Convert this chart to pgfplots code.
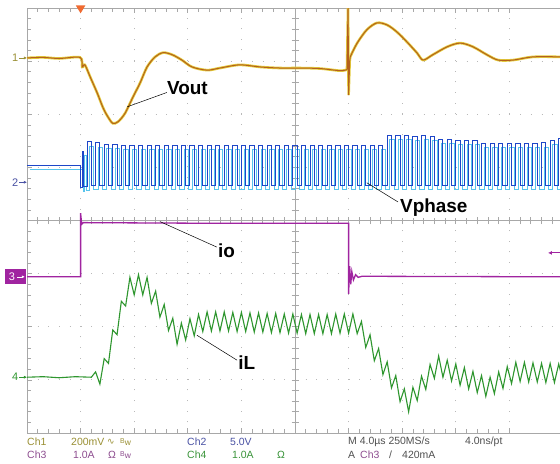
\documentclass[border=0pt]{standalone}
\usepackage{pgfplots}
\pgfplotsset{compat=1.18}
\usepackage{pgfplotstable}
\usepackage{fontspec}
\setmainfont{Liberation Sans}
\newfontfamily\dejavu{DejaVu Sans}
\usetikzlibrary{arrows.meta}

\definecolor{c1}{HTML}{B4601C}
\definecolor{c1halo}{HTML}{E4CC3C}
\definecolor{c1t}{HTML}{9A9034}
\definecolor{c2}{HTML}{1E46C8}
\definecolor{c2b}{HTML}{58C4EC}
\definecolor{c2t}{HTML}{4A52A4}
\definecolor{c3}{HTML}{A024A0}
\definecolor{c3t}{HTML}{8E4E90}
\definecolor{c4}{HTML}{2E962E}
\definecolor{c4t}{HTML}{3A943A}
\definecolor{gridc}{HTML}{A8A8A8}
\definecolor{txt}{HTML}{505050}
\definecolor{trig}{HTML}{F06A30}

% all values in scope divisions (x: 0..10, y: -4..4)
\pgfplotstableread{
x y
0.00 3.06
0.30 3.07
0.60 3.05
0.99 3.07
1.03 2.89
1.08 2.93
1.18 2.70
1.31 2.40
1.42 2.12
1.51 1.95
1.60 1.83
1.70 1.86
1.83 2.02
1.98 2.33
2.11 2.59
2.24 2.89
2.39 3.08
2.54 3.16
2.71 3.12
2.89 3.02
3.08 2.89
3.36 2.83
3.60 2.87
3.97 2.93
4.35 2.89
4.72 2.87
5.09 2.87
5.47 2.86
5.84 2.82
5.97 2.84
}\voutA

\pgfplotstableread{
x y
5.97 2.84
5.99 4.05
6.00 2.36
6.02 3.00
6.03 3.08
}\voutS

\pgfplotstableread{
x y
6.03 3.08
6.16 3.34
6.34 3.59
6.53 3.72
6.72 3.68
6.90 3.55
7.09 3.36
7.28 3.15
7.39 3.02
7.57 3.12
7.84 3.27
8.08 3.34
8.32 3.27
8.58 3.12
8.79 3.02
9.07 3.02
9.44 3.08
9.95 3.08
}\voutB

\pgfplotstableread{
x y
0.00 1.04
1.00 0.62
1.03 1.30
1.06 0.64
1.12 1.48
1.20 0.66
1.28 1.46
1.36 0.66
1.44 1.44
1.52 0.66
1.60 1.43
1.68 0.66
1.76 1.42
1.84 0.66
1.92 1.42
2.00 0.66
2.08 1.41
2.16 0.66
2.24 1.42
2.32 0.66
2.40 1.41
2.48 0.66
2.56 1.42
2.64 0.66
2.72 1.41
2.80 0.66
2.88 1.42
2.96 0.66
3.04 1.41
3.12 0.66
3.20 1.42
3.28 0.66
3.36 1.41
3.44 0.66
3.52 1.42
3.60 0.66
3.68 1.41
3.76 0.66
3.84 1.42
3.92 0.66
4.00 1.41
4.08 0.66
4.16 1.42
4.24 0.66
4.32 1.41
4.40 0.66
4.48 1.42
4.56 0.66
4.64 1.41
4.72 0.66
4.80 1.42
4.88 0.66
4.96 1.41
5.04 0.66
5.12 1.42
5.20 0.66
5.28 1.41
5.36 0.66
5.44 1.42
5.52 0.66
5.60 1.41
5.68 0.66
5.76 1.42
5.84 0.66
5.92 1.41
6.00 0.66
6.08 1.42
6.16 0.66
6.24 1.41
6.32 0.66
6.40 1.42
6.48 0.66
6.56 1.42
6.64 0.66
6.72 1.60
6.80 0.66
6.88 1.60
6.96 0.66
7.04 1.60
7.12 0.66
7.20 1.59
7.28 0.66
7.36 1.60
7.44 0.66
7.52 1.58
7.60 0.66
7.68 1.52
7.76 0.66
7.84 1.52
7.92 0.66
8.00 1.51
8.08 0.66
8.16 1.50
8.24 0.66
8.32 1.50
8.40 0.66
8.48 1.45
8.56 0.66
8.64 1.45
8.72 0.66
8.80 1.45
8.88 0.66
8.96 1.45
9.04 0.66
9.12 1.45
9.20 0.66
9.28 1.45
9.36 0.66
9.44 1.45
9.52 0.66
9.60 1.46
9.68 0.66
9.76 1.50
9.84 0.66
9.92 1.55
10.00 0.66
}\vphase

\pgfplotstableread{
x y
0.00 -1.06
1.00 -1.06
1.00 0.14
1.02 -0.07
1.05 -0.04
3.00 -0.05
6.00 -0.05
6.00 -1.38
6.02 -0.86
6.04 -1.20
6.06 -0.96
6.09 -1.12
6.13 -1.02
6.18 -1.07
6.25 -1.05
9.95 -1.06
}\io

\pgfplotstableread{
x y
0.00 -2.95
0.30 -2.94
0.60 -2.96
0.90 -2.94
1.20 -2.95
1.28 -2.85
1.36 -3.08
1.44 -2.60
1.52 -2.69
1.60 -2.06
1.68 -2.15
1.76 -1.52
1.84 -1.61
1.92 -1.07
2.00 -1.40
2.08 -1.02
2.16 -1.40
2.24 -1.07
2.32 -1.56
2.40 -1.33
2.48 -1.82
2.56 -1.58
2.64 -2.07
2.72 -1.84
2.80 -2.33
2.88 -1.93
2.96 -2.25
3.04 -1.85
3.12 -2.17
3.20 -1.77
3.28 -2.09
3.36 -1.72
3.44 -2.08
3.52 -1.72
3.60 -2.08
3.68 -1.72
3.76 -2.08
3.84 -1.73
3.92 -2.09
4.00 -1.73
4.08 -2.09
4.16 -1.74
4.24 -2.10
4.32 -1.74
4.40 -2.10
4.48 -1.75
4.56 -2.11
4.64 -1.75
4.72 -2.11
4.80 -1.76
4.88 -2.12
4.96 -1.76
5.04 -2.12
5.12 -1.77
5.20 -2.13
5.28 -1.77
5.36 -2.13
5.44 -1.77
5.52 -2.13
5.60 -1.77
5.68 -2.13
5.76 -1.76
5.84 -2.12
5.92 -1.76
6.00 -2.12
6.08 -1.76
6.16 -2.13
6.24 -1.90
6.32 -2.39
6.40 -2.15
6.48 -2.64
6.56 -2.41
6.64 -2.90
6.72 -2.66
6.80 -3.15
6.88 -2.92
6.96 -3.41
7.04 -3.17
7.12 -3.60
7.20 -3.14
7.28 -3.39
7.36 -2.93
7.44 -3.18
7.52 -2.71
7.60 -2.97
7.68 -2.55
7.76 -2.95
7.84 -2.63
7.92 -3.02
8.00 -2.70
8.08 -3.10
8.16 -2.77
8.24 -3.17
8.32 -2.84
8.40 -3.24
8.48 -2.92
8.56 -3.31
8.64 -2.95
8.72 -3.26
8.80 -2.85
8.88 -3.16
8.96 -2.75
9.04 -3.07
9.12 -2.67
9.20 -3.03
9.28 -2.67
9.36 -3.04
9.44 -2.68
9.52 -3.04
9.60 -2.69
9.68 -3.05
9.76 -2.69
9.84 -3.05
9.92 -2.70
10.00 -3.02
}\iL

\begin{document}
\begin{tikzpicture}
\useasboundingbox (0bp,0bp) rectangle (560bp,464bp);
\fill[white] (0bp,0bp) rectangle (560bp,464bp);
\begin{axis}[
    at={(27bp,31bp)}, anchor=south west,
    scale only axis, width=533bp, height=425bp,
    xmin=0, xmax=9.944, ymin=-4, ymax=4,
    axis x line*=box, axis y line*=left,
    axis line style={gridc, line width=0.8bp},
    xtick={0,...,9}, ytick={-4,...,4},
    minor x tick num=4, minor y tick num=4,
    xticklabels={}, yticklabels={},
    tick align=inside,
    tick style={gridc, line width=0.7bp},
    major tick length=5bp, minor tick length=4bp,
    grid=major,
    x grid style={gridc!80, line width=1bp, dash pattern=on 1bp off 9.625bp},
    y grid style={gridc!80, line width=1bp, dash pattern=on 1bp off 9.72bp},
    clip mode=individual,
]
% centre graticule
\draw[gridc, line width=0.8bp] (0,0) -- (9.944,0);
\draw[gridc, line width=0.8bp] (5,-4) -- (5,4);
\pgfplotsinvokeforeach{0.2,0.4,...,9.8}{\draw[gridc, line width=0.7bp] (#1,0) ++(0pt,-3.5bp) -- ++(0pt,7bp);}
\pgfplotsinvokeforeach{-3.8,-3.6,...,3.8}{\draw[gridc, line width=0.7bp] (5,#1) ++(-3.5bp,0pt) -- ++(7bp,0pt);}

% Ch2 Vphase (persistence copy + trace)
\addplot[const plot, c2b, line width=0.7bp, xshift=2.5bp, yshift=-4bp] table {\vphase};
\addplot[const plot, c2, line width=1bp] table {\vphase};

% Ch1 Vout
\addplot[smooth, c1halo, line width=2.6bp] table {\voutA};
\addplot[c1halo, line width=2.6bp] table {\voutS};
\addplot[smooth, c1halo, line width=2.6bp] table {\voutB};
\addplot[smooth, c1, line width=1bp] table {\voutA};
\addplot[c1, line width=1bp] table {\voutS};
\addplot[smooth, c1, line width=1bp] table {\voutB};

% Ch3 io
\addplot[c3, line width=1.3bp] table {\io};

% Ch4 iL
\addplot[c4, line width=1.1bp] table {\iL};

% annotations
\draw[black, line width=0.5bp] (1.87,2.14) -- (2.61,2.41);
\node[anchor=west, inner sep=0pt, font=\fontsize{19}{19}\selectfont\bfseries] at (2.61,2.50) {Vout};
\draw[black, line width=0.5bp] (6.34,0.71) -- (6.92,0.35);
\node[anchor=west, inner sep=1bp, fill=white, font=\fontsize{19}{19}\selectfont\bfseries] at (6.94,0.24) {Vphase};
\draw[black, line width=0.5bp] (2.48,-0.02) -- (3.54,-0.50);
\node[anchor=west, inner sep=0pt, font=\fontsize{19}{19}\selectfont\bfseries] at (3.56,-0.56) {io};
\draw[black, line width=0.5bp] (3.17,-2.16) -- (3.92,-2.63);
\node[anchor=west, inner sep=0pt, font=\fontsize{19}{19}\selectfont\bfseries] at (3.94,-2.68) {iL};

% channel markers
\node[text=c1t, anchor=east, inner sep=0pt, font=\fontsize{11}{11}\selectfont] at (-0.16,3.06) {1};
\draw[c1t, line width=0.6bp, -{Latex[length=3bp,width=3bp]}] (-0.14,3.06) -- (0,3.06);
\node[text=c2t, anchor=east, inner sep=0pt, font=\fontsize{11}{11}\selectfont] at (-0.16,0.72) {2};
\draw[c2t, line width=0.6bp, -{Latex[length=3bp,width=3bp]}] (-0.14,0.72) -- (0,0.72);
\fill[c3] (-0.41,-0.92) rectangle (-0.02,-1.20);
\node[text=white, inner sep=0pt, font=\fontsize{11}{11}\selectfont] at (-0.28,-1.06) {3};
\draw[white, line width=0.6bp, -{Latex[length=3bp,width=3bp]}] (-0.18,-1.06) -- (-0.04,-1.06);
\node[text=c4, anchor=east, inner sep=0pt, font=\fontsize{11}{11}\selectfont] at (-0.16,-2.95) {4};
\draw[c4, line width=0.6bp, -{Latex[length=3bp,width=3bp]}] (-0.14,-2.95) -- (0,-2.95);
\fill[trig] (0.91,4.05) -- (1.09,4.05) -- (1.0,3.90) -- cycle;
\draw[c3, line width=0.9bp, {Latex[length=4bp,width=4bp]}-] (9.72,-0.61) -- (9.944,-0.61);
\end{axis}

% status lines
\begin{scope}[every node/.style={anchor=west, inner sep=0pt, font=\fontsize{10.5}{10.5}\selectfont}]
\node[text=c1t] at (27bp,22bp) {Ch1};
\node[text=c1t] at (71bp,22bp) {200mV};
\node[text=c1t] at (107bp,22bp) {\dejavu\fontsize{9}{9}\selectfont ∿};
\node[text=c1t] at (120bp,22bp) {\raisebox{1.5bp}{\fontsize{7}{7}\selectfont B}{\fontsize{8.5}{8.5}\selectfont w}};
\node[text=c2t] at (187bp,22bp) {Ch2};
\node[text=c2t] at (230bp,22bp) {5.0V};
\node[text=txt] at (348bp,22bp) {M 4.0µs 250MS/s};
\node[text=txt] at (465bp,22bp) {4.0ns/pt};
\node[text=c3t] at (27bp,9bp) {Ch3};
\node[text=c3t] at (73bp,9bp) {1.0A};
\node[text=c3t] at (108bp,9bp) {Ω};
\node[text=c3t] at (120bp,9bp) {\raisebox{1.5bp}{\fontsize{7}{7}\selectfont B}{\fontsize{8.5}{8.5}\selectfont w}};
\node[text=c4t] at (187bp,9bp) {Ch4};
\node[text=c4t] at (232bp,9bp) {1.0A};
\node[text=c4t] at (277bp,9bp) {Ω};
\node[text=txt] at (348bp,9bp) {A};
\node[text=c3t] at (360bp,9bp) {Ch3};
\node[text=txt] at (389bp,9bp) {/};
\node[text=txt] at (402bp,9bp) {420mA};
\end{scope}
\end{tikzpicture}
\end{document}
